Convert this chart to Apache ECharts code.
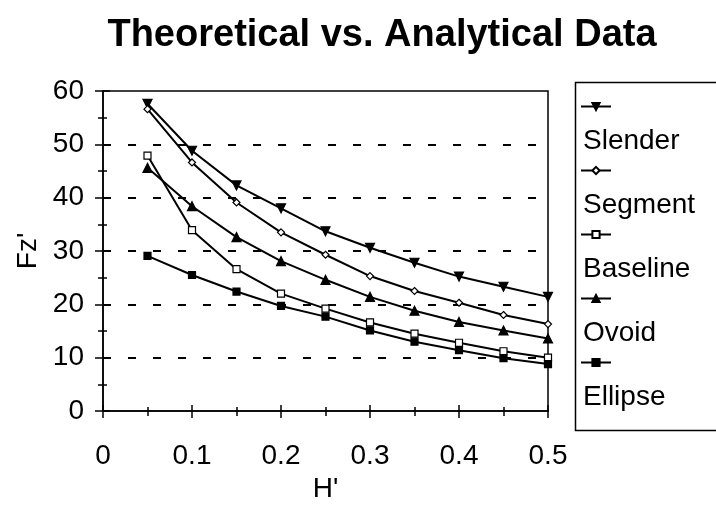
<!DOCTYPE html>
<html>
<head>
<meta charset="utf-8">
<script src="https://cdn.jsdelivr.net/npm/echarts@6/dist/echarts.min.js"></script>
<style>
  html, body { margin: 0; padding: 0; background: #fff; }
  #chart { width: 716px; height: 508px; }
</style>
</head>
<body>
<div id="chart"></div>
<script>
// H' values along the x axis
var hValues = [0.05, 0.1, 0.15, 0.2, 0.25, 0.3, 0.35, 0.4, 0.45, 0.5];

// Fz' per shape
var slender  = [57.6, 48.8, 42.3, 38.0, 33.7, 30.6, 27.8, 25.2, 23.3, 21.4];
var segment  = [56.6, 46.6, 39.1, 33.5, 29.3, 25.3, 22.5, 20.3, 18.0, 16.3];
var baseline = [47.9, 33.9, 26.6, 22.0, 19.2, 16.6, 14.5, 12.8, 11.2, 10.0];
var ovoid    = [45.6, 38.4, 32.6, 28.1, 24.6, 21.4, 18.8, 16.7, 15.1, 13.6];
var ellipse  = [29.1, 25.5, 22.4, 19.7, 17.7, 15.1, 13.0, 11.4, 9.9, 8.8];

var seriesNames = ['Slender', 'Segment', 'Baseline', 'Ovoid', 'Ellipse'];

var dom = document.getElementById('chart');
var myChart = echarts.init(dom, null, { renderer: 'canvas' });

function pairs(ys) {
  return hValues.map(function (h, i) { return [h, ys[i]]; });
}

function lineSeries(name, ys, symbol, rotate, size, filled) {
  return {
    name: name,
    type: 'line',
    data: pairs(ys),
    symbol: symbol,
    symbolRotate: rotate,
    symbolSize: size,
    showAllSymbol: true,
    lineStyle: { color: '#000', width: 2 },
    itemStyle: {
      color: filled ? '#000' : '#fff',
      borderColor: '#000',
      borderWidth: 1.2
    },
    emphasis: { disabled: true },
    z: 3
  };
}

var font = 'Liberation Sans, Arial, sans-serif';
var tickStyle = { color: '#000', width: 1.5 };

var option = {
  animation: false,
  backgroundColor: '#fff',
  title: {
    text: 'Theoretical vs. Analytical Data',
    left: 377,
    textAlign: 'center',
    top: 12,
    textStyle: { fontFamily: font, fontSize: 38, fontWeight: 'bold', color: '#000' }
  },
  // legend frame
  graphic: [{
    type: 'rect',
    left: 573,
    top: 80,
    shape: { width: 200, height: 348 },
    style: { fill: 'none', stroke: '#000', lineWidth: 1.5 },
    silent: true
  }],
  legend: {
    orient: 'vertical',
    left: 580,
    top: 54,
    padding: 0,
    itemWidth: 30,
    itemHeight: 9,
    itemGap: -41,
    data: seriesNames,
    formatter: function (name) { return '\n\n' + name; },
    textStyle: {
      fontFamily: font,
      fontSize: 28,
      lineHeight: 35,
      color: '#000',
      padding: [0, 0, 0, -33]
    }
  },
  grid: {
    left: 103,
    right: 168,
    top: 91,
    bottom: 95,
    show: true,
    borderColor: '#000',
    borderWidth: 1.5
  },
  xAxis: [{
    type: 'value',
    min: 0,
    max: 0.5,
    interval: 0.1,
    name: "H'",
    nameLocation: 'middle',
    nameGap: 64,
    nameTextStyle: { fontFamily: font, fontSize: 28, color: '#000' },
    axisLine: { lineStyle: tickStyle },
    axisTick: { show: true, inside: false, length: 7, lineStyle: tickStyle },
    minorTick: { show: true, splitNumber: 2, length: 5, lineStyle: tickStyle },
    axisLabel: {
      margin: 31,
      fontFamily: font,
      fontSize: 28,
      color: '#000',
      formatter: function (v) { return v === 0 ? '0' : String(+v.toFixed(1)); }
    },
    splitLine: { show: false }
  }, {
    type: 'value',
    position: 'bottom',
    min: 0,
    max: 0.5,
    interval: 0.1,
    axisLine: { show: false },
    axisTick: { show: true, inside: true, length: 6, lineStyle: tickStyle },
    minorTick: { show: true, splitNumber: 2, length: 4, lineStyle: tickStyle },
    axisLabel: { show: false },
    splitLine: { show: false }
  }],
  yAxis: [{
    type: 'value',
    min: 0,
    max: 60,
    interval: 10,
    name: "Fz'",
    nameLocation: 'middle',
    nameGap: 52,
    nameTextStyle: { fontFamily: font, fontSize: 28, color: '#000' },
    axisLine: { show: true, lineStyle: tickStyle },
    axisTick: { show: true, inside: false, length: 8, lineStyle: tickStyle },
    minorTick: { show: true, splitNumber: 2, length: 5, lineStyle: tickStyle },
    axisLabel: { margin: 19, fontFamily: font, fontSize: 28, color: '#000' },
    splitLine: {
      show: true,
      showMinLine: false,
      showMaxLine: false,
      lineStyle: { color: '#000', width: 2, type: [8, 17] }
    }
  }, {
    type: 'value',
    position: 'left',
    min: 0,
    max: 60,
    interval: 10,
    axisLine: { show: false },
    axisTick: { show: true, inside: true, length: 7, lineStyle: tickStyle },
    minorTick: { show: true, splitNumber: 2, length: 4, lineStyle: tickStyle },
    axisLabel: { show: false },
    splitLine: { show: false }
  }],
  series: [
    lineSeries('Slender', slender, 'triangle', 180, 9, true),
    lineSeries('Segment', segment, 'diamond', 0, 7, false),
    lineSeries('Baseline', baseline, 'rect', 0, 7, false),
    lineSeries('Ovoid', ovoid, 'triangle', 0, 9, true),
    lineSeries('Ellipse', ellipse, 'rect', 0, 7, true)
  ]
};

myChart.setOption(option);
window.addEventListener('resize', myChart.resize);
</script>
</body>
</html>
